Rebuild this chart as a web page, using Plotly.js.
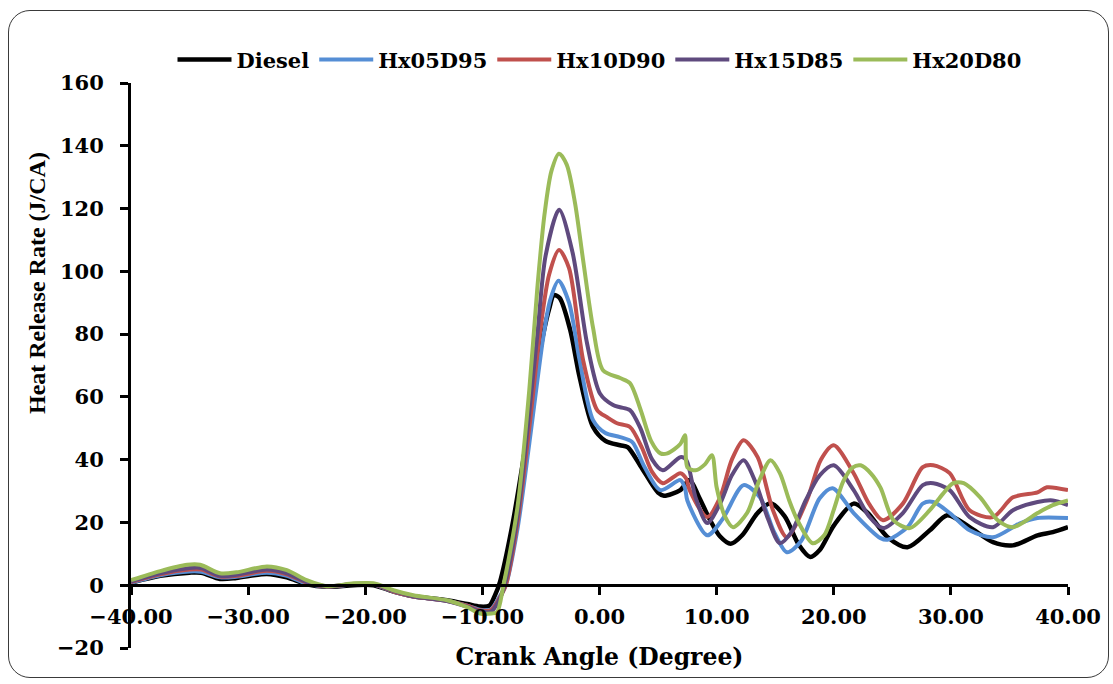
<!DOCTYPE html>
<html>
<head>
<meta charset="utf-8">
<script src="https://cdn.plot.ly/plotly-3.0.1.min.js"></script>
<style>
  html, body { margin: 0; padding: 0; background: #ffffff; }
  #wrap { position: relative; width: 1113px; height: 684px; overflow: hidden; }
  #chart { position: absolute; left: 0; top: 0; width: 1113px; height: 684px; }
  #frame { position: absolute; left: 8px; top: 10px; width: 1101px; height: 668px;
           border: 1.5px solid #3a3a3a; border-radius: 22px; box-sizing: border-box; pointer-events: none; }
</style>
</head>
<body>
<div id="wrap">
  <div id="chart"></div>
  <div id="frame"></div>
</div>
<script>
// ---- Data ----
const seriesNames = ["Diesel", "Hx05D95", "Hx10D90", "Hx15D85", "Hx20D80"];
const xTickValues = [-40, -30, -20, -10, 0, 10, 20, 30, 40];

const dieselX = [-40, -37.5, -35, -34, -32.4, -31, -28.4, -26.7, -25, -23.3, -21, -19.3, -17.6, -15.9, -13, -11.3, -10.2, -9.4, -8.9, -8.5, -7.5, -6.5, -5.5, -4.8, -4.3, -3.9, -3.4, -2.5, -1.7, -0.55, 0.5, 1.76, 2.4, 3.5, 5, 5.5, 6.9, 7.7, 8.5, 9.45, 10.3, 11.2, 12.2, 13.5, 14.6, 15.8, 17, 18, 18.8, 20, 21.7, 22.9, 24.6, 26.3, 28.2, 29.7, 31.6, 33.6, 35.3, 37.4, 38.7, 40];
const dieselY = [0.8, 3, 4, 4, 2, 2.3, 3.6, 2.5, 0.3, -0.5, 0, 0, -2, -3.5, -4.8, -6, -6.8, -6.5, -3, 1, 18, 40, 65, 80, 88, 92.4, 91.5, 81.3, 66.3, 50.4, 46, 44.6, 44, 38, 29.5, 28.5, 30.3, 33.5, 28, 20.7, 15.5, 13.2, 16, 23, 26.1, 22, 13, 9, 11.2, 19, 26, 23, 15.3, 12.1, 17.5, 22.3, 18.5, 13.7, 12.7, 15.9, 16.9, 18.5];

const hx05X = [-40, -37.5, -35, -34, -32.4, -31, -28.4, -26.7, -25, -23.3, -21, -19.3, -17.6, -15.9, -13, -11.3, -10.2, -9.3, -8.6, -8, -7, -6, -4.8, -4.2, -3.5, -2.6, -1.7, -0.55, 0.5, 1.76, 2.8, 3.8, 5.2, 6.9, 7.3, 7.5, 9.2, 10.5, 12.3, 13.7, 14.9, 16, 17.2, 18.8, 19.9, 21.7, 24, 24.6, 26.3, 27.6, 28.5, 29.9, 31.6, 33.6, 35.9, 37.4, 40];
const hx05Y = [0.8, 3.2, 4.4, 4.3, 2.5, 2.7, 4, 3, 0.5, -0.4, 0.2, 0.2, -2, -3.6, -5, -6.5, -7.8, -7.8, -4, 0, 18, 45, 79, 91, 97, 90, 71.7, 52.6, 48.5, 47.2, 45.6, 38, 30.3, 33.5, 31, 27, 15.9, 21, 31.9, 28, 17, 10.5, 14, 27.7, 30.9, 23, 15, 14.5, 18.5, 26, 26.5, 23, 17.5, 15.3, 19.7, 21.4, 21.4];

const hx10X = [-40, -37.5, -35, -34, -32.4, -31, -28.4, -26.7, -25, -23.3, -21, -19.3, -17.6, -15.9, -13, -11.3, -10.2, -9.3, -8.6, -8, -7, -6, -5.1, -4.3, -3.45, -2.6, -1.4, -0.2, 0.65, 1.5, 2.6, 3.6, 4.5, 5.4, 6.9, 7.4, 7.7, 9.2, 10.3, 11.3, 12.3, 13.5, 14.8, 16, 17.7, 18.9, 20, 21.7, 23, 24.2, 25.9, 27.6, 28.5, 29.9, 31.6, 33.6, 35.3, 37.4, 38.2, 40];
const hx10Y = [1, 3.5, 5, 5, 2.8, 3, 4.6, 3.5, 0.8, -0.4, 0.3, 0.3, -2, -3.6, -5, -6.5, -8, -8, -4.5, 0, 20, 50, 80, 99, 106.8, 101, 71.7, 55.8, 53.5, 51.6, 50.4, 44, 36, 32.5, 35.7, 34, 30.3, 21.7, 28, 40, 46.2, 40.8, 24, 15.3, 27, 40, 44.6, 35.7, 26, 20.7, 26, 37.6, 38.2, 35.7, 23.9, 21.7, 28, 29.6, 31.2, 30.3];

const hx15X = [-40, -37.5, -35, -34, -32.4, -31, -28.4, -26.7, -25, -23.3, -21, -19.3, -17.6, -15.9, -13, -11.3, -10.2, -9.3, -8.6, -8.1, -7, -6, -5.3, -4.6, -3.45, -2.3, -1.06, 0.05, 1.16, 1.76, 2.6, 3.5, 4.5, 5.4, 6.9, 7.4, 8.2, 9.2, 10.3, 11.3, 12.3, 13.3, 14.4, 15.4, 16.4, 17.6, 18.8, 20, 21.7, 23, 24.2, 25.9, 27.6, 28.5, 29.9, 31.6, 33.6, 35.3, 37.4, 38.7, 40];
const hx15Y = [1.2, 3.8, 5.5, 5.5, 3, 3.3, 5, 3.8, 1, -0.3, 0.4, 0.4, -1.8, -3.5, -5, -6.8, -8.3, -8.5, -5, 0, 22, 55, 80, 105, 119.6, 106, 77, 61, 57.4, 56.7, 55.8, 50, 40, 36.6, 40.8, 40, 28, 19.8, 26, 35, 39.8, 33, 21, 13.4, 17, 27, 35, 38.2, 30.3, 22, 18.2, 23, 31.9, 32.5, 30.3, 21.7, 18.5, 23.9, 26.5, 27, 25.5];

const hx20X = [-40, -37.5, -35.2, -34.1, -32.4, -31, -28.4, -26.7, -25, -23.3, -21, -19.3, -17.6, -15.9, -13, -11.3, -10.2, -9.2, -8.75, -8.2, -7, -6, -5.3, -4.7, -4.1, -3.45, -2.8, -2.1, -1.4, -0.55, 0.3, 1.76, 2.6, 3.5, 4.4, 5.2, 5.8, 6.9, 7.3, 7.5, 8.2, 9.0, 9.6, 10, 10.7, 11.4, 12.6, 13.6, 14.6, 15.4, 16.2, 16.9, 18.2, 19.2, 20, 20.8, 21.6, 22.3, 23.2, 24, 25.1, 26.5, 28.2, 29.3, 30.2, 31.1, 32.5, 34, 35.3, 37.4, 38.7, 40];
const hx20Y = [1.6, 4.5, 6.5, 6.5, 3.8, 4.1, 6, 4.8, 1.6, -0.3, 0.6, 0.6, -1.6, -3.2, -4.8, -7, -9, -9, -8.6, 0, 25, 62, 95, 118, 132, 137.5, 134, 122, 103.6, 82, 68.5, 66, 64.4, 56, 46, 42, 42, 45, 47.8, 37.6, 36.6, 38.5, 41.4, 31.2, 22, 18.5, 23, 33, 39.8, 35.7, 27, 20.7, 13.4, 16, 24, 33, 37.5, 38.2, 35.5, 31, 20.7, 18.2, 23.9, 29, 32.5, 32.5, 28, 20.7, 18.5, 23, 25.5, 27];

const seriesX = [dieselX, hx05X, hx10X, hx15X, hx20X];
const seriesY = [dieselY, hx05Y, hx10Y, hx15Y, hx20Y];
const seriesColors = ["#000000", "#558ED5", "#C0504D", "#5F4A7E", "#9BBB59"];

const boldFont = "DejaVu Serif";

const traces = seriesNames.map((name, i) => ({
  type: "scatter",
  mode: "lines",
  name: name,
  x: seriesX[i],
  y: seriesY[i],
  line: { color: seriesColors[i], width: i === 0 ? 4.5 : 4, shape: "spline", smoothing: 0.8 },
  hoverinfo: "skip"
}));

const layout = {
  width: 1113,
  height: 684,
  paper_bgcolor: "#ffffff",
  plot_bgcolor: "#ffffff",
  margin: { l: 131, r: 45, t: 83, b: 36, pad: 0 },
  showlegend: true,
  legend: {
    orientation: "h",
    x: 0.5, xanchor: "center",
    y: 1.041, yanchor: "middle",
    font: { family: boldFont, size: 21, color: "#000", weight: 700 },
    itemwidth: 54,
    bgcolor: "rgba(0,0,0,0)"
  },
  xaxis: {
    range: [-40, 40],
    tickvals: xTickValues,
    tickformat: ".2f",
    anchor: "free",
    position: 20 / 180,
    showline: true, linecolor: "#000", linewidth: 3,
    ticks: "outside", ticklen: 8, tickwidth: 3, tickcolor: "#000",
    ticklabelstandoff: 4,
    showgrid: false, zeroline: false,
    tickfont: { family: boldFont, size: 21, color: "#000", weight: 700 },
    title: { text: "Crank Angle (Degree)", standoff: 20,
             font: { family: boldFont, size: 23.5, color: "#000", weight: 700 } }
  },
  yaxis: {
    range: [-20, 160],
    dtick: 20,
    showline: true, linecolor: "#000", linewidth: 3,
    ticks: "outside", ticklen: 8, tickwidth: 3, tickcolor: "#000",
    ticklabelstandoff: 12,
    showgrid: false, zeroline: false,
    tickfont: { family: boldFont, size: 21, color: "#000", weight: 700 }
  },
  annotations: [{
    xref: "paper", yref: "paper",
    x: -0.1003, y: 0.646,
    xanchor: "center", yanchor: "middle",
    textangle: -90,
    showarrow: false,
    text: "Heat Release Rate (J/CA)",
    font: { family: "Liberation Serif", size: 24, color: "#000", weight: 700 }
  }]
};

Plotly.newPlot("chart", traces, layout, { displayModeBar: false, staticPlot: true });
</script>
</body>
</html>
